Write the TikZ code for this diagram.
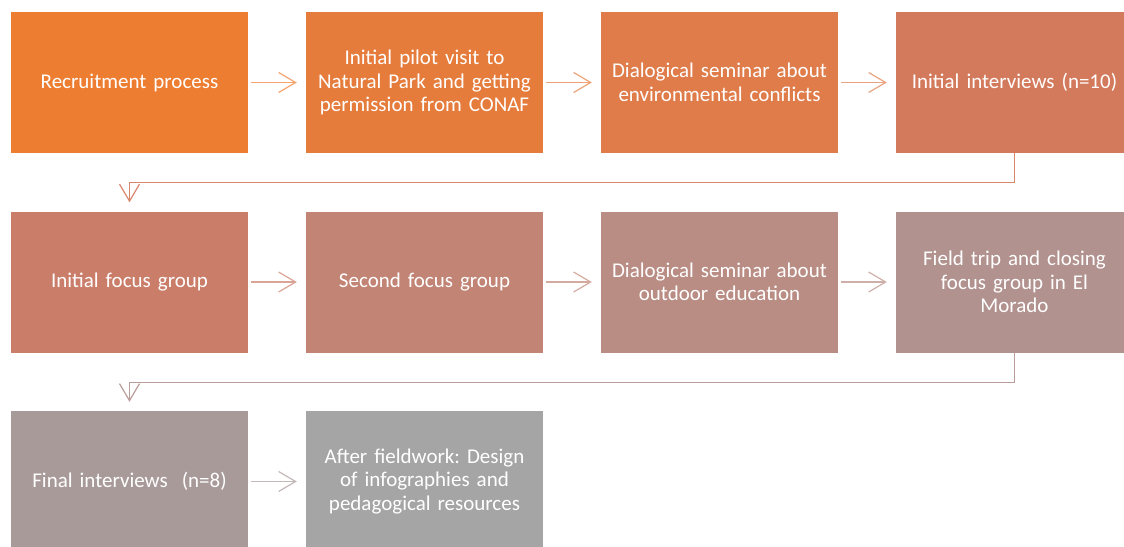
\documentclass[tikz,border=0pt]{standalone}
\usepackage{fontspec}
\setmainfont{Carlito}
\usepackage{tikz}
\usetikzlibrary{arrows.meta}

% fill colours, orange fading to grey along the process
\definecolor{phase1}{HTML}{ED7D31}
\definecolor{phase2}{HTML}{E67C3B}
\definecolor{phase3}{HTML}{DF7C4A}
\definecolor{phase4}{HTML}{D47A5C}
\definecolor{phase5}{HTML}{CA7D69}
\definecolor{phase6}{HTML}{C18475}
\definecolor{phase7}{HTML}{B98D84}
\definecolor{phase8}{HTML}{B1928E}
\definecolor{phase9}{HTML}{A99A9A}
\definecolor{phase10}{HTML}{A5A5A5}

\frenchspacing

\begin{document}
\begin{tikzpicture}[x=1pt, y=1pt, node distance=295pt, auto]
    \tikzstyle{phase} = [rectangle, minimum width=237pt, minimum height=141pt, inner sep=0pt, text width=226pt, align=center, text=white, font=\fontsize{21}{23.5}\selectfont]
    \tikzstyle{flow} = [-{Straight Barb[length=17pt, width=20pt, line width=1.2pt]}, line width=1.2pt]

    \useasboundingbox (0,0) rectangle (1124,-546);

    % First row
    \node [phase, fill=phase1] (recruit) at (129.5,-82.5) {Recruitment process};
    \node [phase, fill=phase2, right of=recruit] (pilot) {Initial pilot visit to\\Natural Park and getting\\permission from CONAF};
    \node [phase, fill=phase3, right of=pilot] (seminarA) {Dialogical seminar about\\environmental conflicts};
    \node [phase, fill=phase4, right of=seminarA] (interviewsA) {Initial interviews (n=10)};

    % Second row
    \node [phase, fill=phase5, below of=recruit, node distance=199.5pt] (focusA) {Initial focus group};
    \node [phase, fill=phase6, right of=focusA] (focusB) {Second focus group};
    \node [phase, fill=phase7, right of=focusB] (seminarB) {Dialogical seminar about\\outdoor education};
    \node [phase, fill=phase8, right of=seminarB] (fieldtrip) {Field trip and closing\\focus group in El\\Morado};

    % Third row
    \node [phase, fill=phase9, below of=focusA, node distance=199.5pt] (interviewsB) {Final interviews\ \ (n=8)};
    \node [phase, fill=phase10, right of=interviewsB] (design) {After fieldwork: Design\\of infographies and\\pedagogical resources};

    % Connections
    \draw [flow, phase1!70!white, shorten <=3pt, shorten >=9pt] (recruit) -- (pilot);
    \draw [flow, phase2!70!white, shorten <=3pt, shorten >=9pt] (pilot) -- (seminarA);
    \draw [flow, phase3!70!white, shorten <=3pt, shorten >=9pt] (seminarA) -- (interviewsA);
    \draw [flow, phase5!70!white, shorten <=3pt, shorten >=9pt] (focusA) -- (focusB);
    \draw [flow, phase6!70!white, shorten <=3pt, shorten >=9pt] (focusB) -- (seminarB);
    \draw [flow, phase7!70!white, shorten <=3pt, shorten >=9pt] (seminarB) -- (fieldtrip);
    \draw [flow, phase9!70!white, shorten <=3pt, shorten >=9pt] (interviewsB) -- (design);

    % Row breaks
    \draw [flow, phase4!90!white] (interviewsA.south) -- ++(0,-29.5) -| ([yshift=9pt]focusA.north);
    \draw [flow, phase8!90!white] (fieldtrip.south) -- ++(0,-29.5) -| ([yshift=9pt]interviewsB.north);
\end{tikzpicture}
\end{document}
